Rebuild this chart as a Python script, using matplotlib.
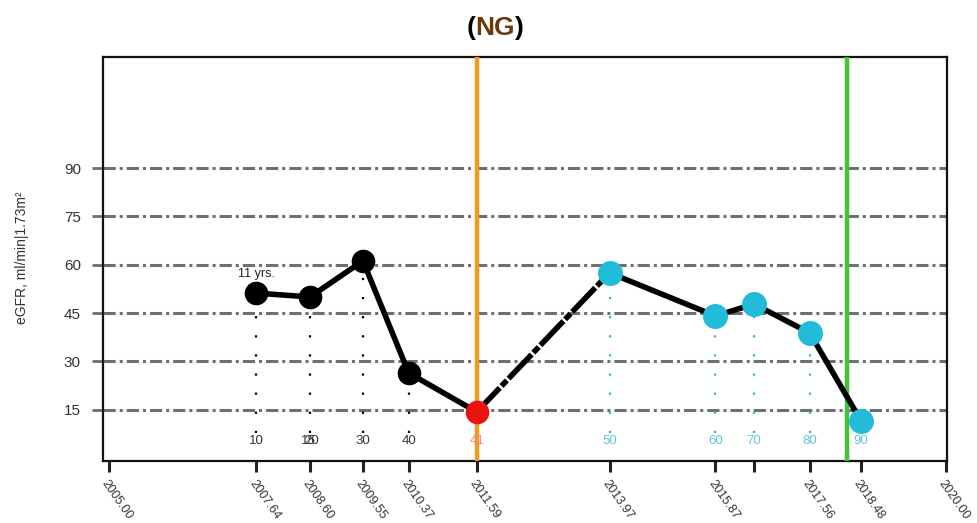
import matplotlib
matplotlib.use("Agg")
import matplotlib.pyplot as plt
from matplotlib.offsetbox import TextArea, HPacker, AnnotationBbox

plt.rcParams['font.family'] = ['Liberation Sans', 'DejaVu Sans']

# ---- data ----
dates = [2007.64, 2008.60, 2009.55, 2010.37, 2011.59, 2013.97, 2015.87, 2016.56, 2017.56, 2018.48]
egfr = [51.2, 50.0, 61.2, 26.4, 14.3, 57.5, 44.1, 47.8, 38.8, 11.5]
marker_kind = ['k', 'k', 'k', 'k', 'r', 'c', 'c', 'c', 'c', 'c']
age_dates = [2007.64, 2008.57, 2008.63, 2009.55, 2010.37, 2011.59, 2013.97, 2015.87, 2016.56, 2017.56, 2018.48]
age_labels = ['10', '15', '20', '30', '40', '41', '50', '60', '70', '80', '90']
age_kind = ['k', 'k', 'k', 'k', 'k', 'r', 'c', 'c', 'c', 'c', 'c']
xtick_pos = [2005.00, 2007.64, 2008.60, 2009.55, 2010.37, 2011.59, 2013.97, 2015.87, 2016.56, 2017.56, 2018.48, 2020.00]
xtick_lab = ['2005.00', '2007.64', '2008.60', '2009.55', '2010.37', '2011.59', '2013.97', '2015.87', '', '2017.56', '2018.48', '2020.00']
yticks = [15, 30, 45, 60, 75, 90]
event_orange = 2011.59
event_green = 2018.23

BLACK = '#000000'
RED = '#E8140E'
CYAN = '#22BBDA'
mcol = {'k': BLACK, 'r': RED, 'c': CYAN}
lcol = {'k': '#333333', 'r': '#EE8A84', 'c': '#5EC6DE'}

fig = plt.figure(figsize=(9.78, 5.23), dpi=100)
W, H = 978, 523
ax = fig.add_axes([103 / W, 1 - 461 / H, (947 - 103) / W, (461 - 57) / H])
ax.set_xlim(2004.89, 2020.02)
ax.set_ylim(-0.93, 124.5)

# horizontal dash-dot grid lines
for yv in yticks:
    ax.axhline(yv, color='#6f6f6f', lw=2.2, dashes=(4.0, 1.3, 1.0, 1.3), zorder=1)

# dotted verticals beneath each point
for d, v, k in zip(dates, egfr, marker_kind):
    ax.plot([d, d], [7.8, v], color=mcol[k] if k != 'r' else BLACK,
            lw=1.6, dashes=(1.0, 7.6), zorder=2)

# vertical event lines
ax.axvline(event_orange, color='#F39A1E', lw=3.2, zorder=3)
ax.axvline(event_green, color='#44C23A', lw=3.2, zorder=3)

# main line: solid, except dash-dot between 2011.59 and 2013.97
ax.plot(dates[:5], egfr[:5], color=BLACK, lw=4.0, solid_capstyle='round', zorder=4)
ax.plot(dates[4:6], egfr[4:6], color=BLACK, lw=4.0, dashes=(6, 0.45, 1.4, 0.45), zorder=4)
ax.plot(dates[5:], egfr[5:], color=BLACK, lw=4.0, solid_capstyle='round', zorder=4)

for d, v, k in zip(dates, egfr, marker_kind):
    ax.plot(d, v, 'o', color=mcol[k], ms=17 if k != 'c' else 18, mec='none', zorder=5)

# age labels
for d, lab, k in zip(age_dates, age_labels, age_kind):
    ax.text(d, 5.4, lab, color=lcol[k], fontsize=9.5, ha='center', va='center', zorder=6)

ax.text(2007.64, 57.2, '11 yrs.', fontsize=9, color='#222222', ha='center', va='center', zorder=6)

# axes styling
ax.set_yticks(yticks)
ax.set_yticklabels([str(v) for v in yticks], fontsize=11, color='#333333')
ax.set_xticks(xtick_pos)
ax.set_xticklabels(xtick_lab, rotation=-55, ha='left', va='top',
                   rotation_mode='anchor', fontsize=9, color='#333333')
ax.tick_params(axis='y', length=8, width=2, color='#6f6f6f', pad=8)
ax.tick_params(axis='x', length=8, width=2.2, color='#222222', pad=4)
for s in ax.spines.values():
    s.set_linewidth(1.6)
    s.set_color('#111111')

fig.text(22 / W, 1 - 258 / H, 'eGFR, ml/min|1.73m²', rotation=90, fontsize=10,
         color='#333333', ha='center', va='center')

# title with mixed colours
parts = [TextArea('(', textprops=dict(color='black', fontsize=19, fontweight='bold')),
         TextArea('NG', textprops=dict(color='#6B3A0C', fontsize=19, fontweight='bold')),
         TextArea(')', textprops=dict(color='black', fontsize=19, fontweight='bold'))]
box = HPacker(children=parts, align='baseline', pad=0, sep=0)
ab = AnnotationBbox(box, (495 / W, 1 - 28 / H), xycoords='figure fraction',
                    frameon=False, box_alignment=(0.5, 0.5))
fig.add_artist(ab)

fig.savefig('out.png', dpi=100)
